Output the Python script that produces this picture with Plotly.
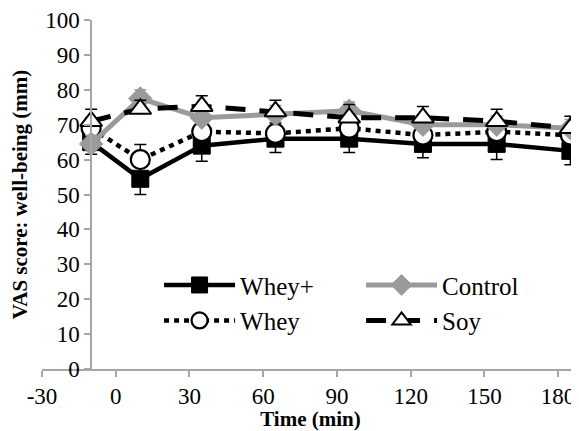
import plotly.graph_objects as go

time_min = [-10, 10, 35, 65, 95, 125, 155, 185]

whey_plus = [65, 54.5, 64, 66, 66, 64.5, 64.5, 62.5]
whey_plus_se = [3.5, 4.5, 4.5, 4, 4, 4, 4.5, 4]

whey = [69, 60, 68, 67.5, 69, 67, 68, 67]
whey_se = [3, 4.3, 3, 3, 3, 3, 3, 3]

control = [64.5, 77.5, 72, 73, 74, 70, 70, 69]
control_se = [2.5, 2.5, 2.5, 2.5, 2.5, 2.5, 2.5, 2.5]

soy = [71, 74.5, 75.3, 73.8, 72, 72, 71, 69]
soy_se = [3.4, 2.5, 3, 3.2, 3.8, 3.2, 3.4, 3.4]

x_tick_vals = [-30, 0, 30, 60, 90, 120, 150, 180]
x_tick_text = ["-30", "0", "30", "60", "90", "120", "150", "180"]

zeros = [0] * len(time_min)

FONT = "Liberation Serif"
X_RANGE = [-30, 188.5]
Y_AXIS_AT = -10

# the page body has an 8px default margin, so the figure is sized to fit
PAGE_OFFSET = 8

fig = go.Figure()

fig.add_trace(go.Scatter(
    x=time_min, y=whey_plus, name="Whey+", legendrank=1,
    mode="lines+markers",
    line=dict(color="black", width=4.5),
    marker=dict(symbol="square", size=17, color="black",
                line=dict(color="black", width=1)),
    error_y=dict(type="data", symmetric=False, array=zeros,
                 arrayminus=whey_plus_se, color="black",
                 thickness=1.5, width=6),
    cliponaxis=False,
))

fig.add_trace(go.Scatter(
    x=time_min, y=whey, name="Whey", legendrank=3,
    mode="lines+markers",
    line=dict(color="black", width=4.5, dash="5px,5px"),
    marker=dict(symbol="circle", size=19, color="white",
                line=dict(color="black", width=2.2)),
    error_y=dict(type="data", symmetric=False, array=whey_se,
                 arrayminus=zeros, color="black",
                 thickness=1.5, width=6),
    cliponaxis=False,
))

fig.add_trace(go.Scatter(
    x=time_min, y=control, name="Control", legendrank=2,
    mode="lines+markers",
    line=dict(color="#9a9a9a", width=5),
    marker=dict(symbol="diamond", size=18, color="#9a9a9a",
                line=dict(color="#9a9a9a", width=1)),
    error_y=dict(type="data", symmetric=False, array=control_se,
                 arrayminus=zeros, color="#9a9a9a",
                 thickness=1.5, width=6),
    cliponaxis=False,
))

fig.add_trace(go.Scatter(
    x=time_min, y=soy, name="Soy", legendrank=4,
    mode="lines+markers",
    line=dict(color="black", width=5, dash="20px,14px"),
    marker=dict(symbol="triangle-up", size=19, color="white",
                line=dict(color="black", width=2)),
    error_y=dict(type="data", symmetric=False, array=soy_se,
                 arrayminus=zeros, color="black",
                 thickness=1.5, width=6),
    cliponaxis=False,
))

axis_color = "#a6a6a6"
y_pos = (Y_AXIS_AT - X_RANGE[0]) / (X_RANGE[1] - X_RANGE[0])

fig.update_layout(
    width=579 - PAGE_OFFSET, height=431 - PAGE_OFFSET,
    margin=dict(l=42 - PAGE_OFFSET, r=0, t=18 - PAGE_OFFSET, b=62),
    paper_bgcolor="white", plot_bgcolor="white",
    font=dict(family=FONT, color="black", size=23),
    showlegend=True,
    legend=dict(
        orientation="h", x=0.218, y=0.306, xanchor="left", yanchor="top",
        entrywidth=116, entrywidthmode="pixels",
        itemwidth=71, font=dict(family=FONT, size=25, color="black"),
        bgcolor="rgba(0,0,0,0)", tracegroupgap=0,
    ),
    xaxis=dict(
        range=X_RANGE, tickmode="array",
        tickvals=x_tick_vals, ticktext=x_tick_text,
        showline=True, linecolor=axis_color, linewidth=1.5,
        ticks="outside", ticklen=6, tickcolor=axis_color, tickwidth=1.5,
        showgrid=False, zeroline=False, ticklabeloverflow="allow",
        tickfont=dict(family=FONT, size=23, color="black"),
        title=dict(text="<b>Time (min)</b>",
                   font=dict(family=FONT, size=21, color="black"),
                   standoff=0),
    ),
    yaxis=dict(
        range=[0, 100], dtick=10,
        anchor="free", position=y_pos,
        showline=True, linecolor=axis_color, linewidth=1.5,
        ticks="outside", ticklen=6, tickcolor=axis_color, tickwidth=1.5,
        showgrid=False, zeroline=False, ticklabeloverflow="allow",
        tickfont=dict(family=FONT, size=23, color="black"),
        title=dict(text="<b>VAS score: well-being (mm)</b>",
                   font=dict(family=FONT, size=21, color="black"),
                   standoff=12),
    ),
)

fig.write_html("out.html")
